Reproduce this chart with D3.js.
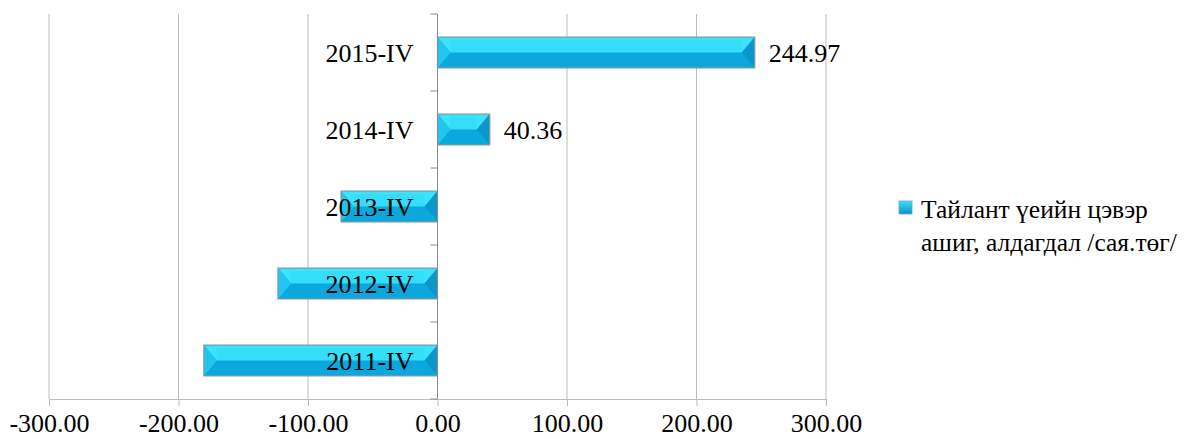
<!DOCTYPE html>
<html><head><meta charset="utf-8">
<script src="https://cdn.jsdelivr.net/npm/d3@7"></script>
<style>body{margin:0;background:#fff}svg{display:block}text{font-family:"Liberation Serif","Times New Roman",serif}</style>
</head><body><svg id="c" width="1190" height="439"></svg>
<script>
const categories = ["2015-IV","2014-IV","2013-IV","2012-IV","2011-IV"];
const values = [244.97, 40.36, -74.5, -123.2, -180.4];
const valueLabels = ["244.97","40.36",null,null,null];
const xTicks = [-300,-200,-100,0,100,200,300];
const xTickLabels = ["-300.00","-200.00","-100.00","0.00","100.00","200.00","300.00"];
const seriesName = ["Тайлант үеийн цэвэр","ашиг, алдагдал /сая.төг/"];

const svg = d3.select("#c");
const L = 49, R = 826, T = 14, B = 399;
const x = d3.scaleLinear().domain([-300,300]).range([L,R]);
const y = d3.scaleBand().domain(categories).range([T,B]).paddingInner(0.6).paddingOuter(0.3);
const yb = d3.scaleBand().domain(categories).range([T,B]);

// gridlines
svg.append("g").selectAll("line").data(xTicks.filter(d=>d!==0)).join("line")
  .attr("x1",d=>x(d)).attr("x2",d=>x(d)).attr("y1",T).attr("y2",B)
  .attr("stroke","#bdbdbd").attr("stroke-width",1);

// x axis
const xa = svg.append("g").attr("transform",`translate(0,${B})`)
  .call(d3.axisBottom(x).tickValues(xTicks).tickFormat((d,i)=>xTickLabels[i]).tickSize(7).tickPadding(8));
xa.select(".domain").attr("stroke","#bdbdbd").attr("d",`M${L},0.5H${R}`);
xa.selectAll(".tick line").attr("stroke","#bdbdbd");
xa.selectAll(".tick text").attr("font-size",26).attr("fill","#000").attr("font-family","Liberation Serif");

// bars
const b = 13;
const colTop="#3be3fb", colBot="#0ca7dc", colL="#20c6ef", colR="#0a98cc";
const bars = svg.append("g").selectAll("g").data(categories).join("g");
bars.each(function(c,i){
  const g = d3.select(this);
  const v = values[i];
  const x0 = Math.min(x(0),x(v)), x1 = Math.max(x(0),x(v));
  const y0 = y(c), y1 = y(c)+y.bandwidth(), ym = (y0+y1)/2;
  const bb = Math.min(b,(x1-x0)/2);
  g.append("rect").attr("x",x0).attr("y",y0).attr("width",x1-x0).attr("height",y1-y0).attr("fill","#15b5e6");
  g.append("polygon").attr("points",[[x0,y0],[x1,y0],[x1-bb,ym],[x0+bb,ym]].join(" ")).attr("fill",colTop);
  g.append("polygon").attr("points",[[x0,y1],[x1,y1],[x1-bb,ym],[x0+bb,ym]].join(" ")).attr("fill",colBot);
  g.append("polygon").attr("points",[[x0,y0],[x0+bb,ym],[x0,y1]].join(" ")).attr("fill",colL);
  g.append("polygon").attr("points",[[x1,y0],[x1-bb,ym],[x1,y1]].join(" ")).attr("fill",colR);
  g.append("rect").attr("x",x0+bb).attr("y",y0+3).attr("width",Math.max(0,x1-x0-2*bb)).attr("height",ym-y0-3).attr("fill","#2fd9f6").attr("opacity",0.5);
  g.append("rect").attr("x",x0).attr("y",y0).attr("width",x1-x0).attr("height",y1-y0)
    .attr("fill","none").attr("stroke","#7f9aa6").attr("stroke-width",1.2);
});

// y axis (at zero)
svg.append("line").attr("x1",x(0)).attr("x2",x(0)).attr("y1",T).attr("y2",B).attr("stroke","#8c8c8c").attr("stroke-width",1);
svg.append("g").selectAll("line").data(categories.concat(["end"])).join("line")
  .attr("x1",x(0)-7).attr("x2",x(0))
  .attr("y1",(d,i)=> T + i*yb.step()).attr("y2",(d,i)=> T + i*yb.step())
  .attr("stroke","#8c8c8c");

// category labels
svg.append("g").selectAll("text").data(categories).join("text")
  .attr("x",x(0)-24).attr("y",d=>yb(d)+yb.bandwidth()/2+9)
  .attr("text-anchor","end").attr("font-size",26).attr("fill","#000").text(d=>d);

// value labels
svg.append("g").selectAll("text").data(categories).join("text")
  .filter((d,i)=>valueLabels[i]!==null)
  .attr("x",d=>x(values[categories.indexOf(d)])+14)
  .attr("y",d=>yb(d)+yb.bandwidth()/2+9)
  .attr("font-size",26).attr("fill","#000")
  .text(d=>valueLabels[categories.indexOf(d)]);

// legend
const lg = svg.append("g");
const grad = svg.append("defs").append("linearGradient").attr("id","lgd").attr("x1",0).attr("y1",0).attr("x2",0).attr("y2",1);
grad.append("stop").attr("offset","0%").attr("stop-color","#3be3fb");
grad.append("stop").attr("offset","100%").attr("stop-color","#0a8fc8");
lg.append("rect").attr("x",899).attr("y",201).attr("width",13).attr("height",13).attr("fill","url(#lgd)").attr("stroke","#6aa8c4").attr("stroke-width",0.8);
lg.selectAll("text").data(seriesName).join("text")
  .attr("x",921).attr("y",(d,i)=>218+i*33).attr("font-size",25.5).attr("fill","#000").text(d=>d);
</script></body></html>
